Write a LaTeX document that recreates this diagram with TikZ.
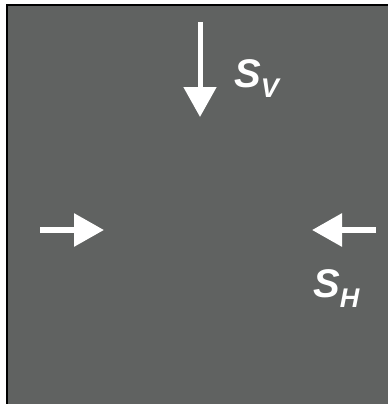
\documentclass[tikz,border=0pt]{standalone}
\usepackage{fontspec}
\setmainfont{Liberation Sans}
\usetikzlibrary{arrows.meta}
\definecolor{boxgray}{HTML}{606261}
\tikzset{
  stressarrow/.style={draw=white, -{Triangle[length=30pt,width=32pt]}},
  lab/.style={text=white, font=\fontsize{40}{40}\selectfont\bfseries\itshape, inner sep=0pt, anchor=base west},
}
\newcommand{\mysub}[1]{\raisebox{-10.5pt}{\fontsize{27}{27}\selectfont #1}}
\begin{document}
\begin{tikzpicture}[x=1pt,y=-1pt]
\useasboundingbox (0,0) rectangle (388,404);
\fill[boxgray] (7,5) rectangle (388,404);
\draw[black, line width=1.2pt] (7,404) -- (7,5) -- (388,5);
\coordinate (vt) at (200,22);
\coordinate (vb) at (200,117);
\coordinate (ll) at (40,230);
\coordinate (lr) at (104,230);
\coordinate (rr) at (376,230);
\coordinate (rl) at (312,230);
\draw[stressarrow, line width=5pt] (vt) -- (vb);
\draw[stressarrow, line width=6pt] (ll) -- (lr);
\draw[stressarrow, line width=6pt] (rr) -- (rl);
\node[lab] (sv) at (234,87) {S\mysub{V}};
\node[lab] (sh) at (313,297) {S\mysub{H}};
\end{tikzpicture}
\end{document}
